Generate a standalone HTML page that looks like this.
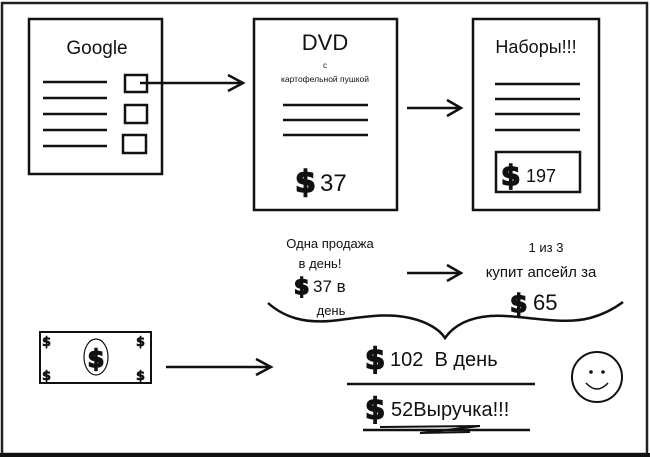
<!DOCTYPE html>
<html><head><meta charset="utf-8"><style>
html,body{margin:0;padding:0;background:#fff;}
svg{display:block;}
text{font-family:"Liberation Sans","DejaVu Sans",sans-serif;fill:#111;}
.b{font-weight:bold;font-family:"DejaVu Sans","Liberation Sans",sans-serif;stroke:#111;stroke-width:1.5;}
</style></head><body>
<svg width="650" height="459" viewBox="0 0 650 459" xmlns="http://www.w3.org/2000/svg">
<rect x="0" y="0" width="650" height="459" fill="#fff"/>
<rect x="2" y="3" width="645" height="451" fill="none" stroke="#222" stroke-width="2.5"/>
<line x1="0" y1="455" x2="650" y2="455" stroke="#111" stroke-width="4"/>
<g stroke="#111" stroke-width="2.5" fill="none">
<rect x="29" y="19" width="133" height="155"/>
<line x1="43" y1="82" x2="107" y2="82"/>
<line x1="43" y1="98" x2="107" y2="98"/>
<line x1="43" y1="114" x2="107" y2="114"/>
<line x1="43" y1="130" x2="107" y2="130"/>
<line x1="43" y1="146" x2="107" y2="146"/>
<rect x="125" y="75" width="22" height="17"/>
<rect x="125" y="105" width="22" height="18"/>
<rect x="123" y="135" width="23" height="18"/>
<line x1="140" y1="83" x2="243" y2="83"/>
<polyline points="228,75 243,83 228,91"/>
<rect x="254" y="19" width="143" height="191"/>
<line x1="283" y1="105" x2="368" y2="105"/>
<line x1="283" y1="120" x2="368" y2="120"/>
<line x1="283" y1="135" x2="368" y2="135"/>
<line x1="407" y1="108" x2="461" y2="108"/>
<polyline points="447,100 461,108 447,116"/>
<rect x="473" y="19" width="126" height="191"/>
<line x1="495" y1="84" x2="580" y2="84"/>
<line x1="495" y1="99" x2="580" y2="99"/>
<line x1="495" y1="114" x2="580" y2="114"/>
<line x1="495" y1="130" x2="580" y2="130"/>
<rect x="496" y="152" width="84" height="40"/>
<line x1="407" y1="273" x2="461" y2="273"/>
<polyline points="447,265 461,273 447,281"/>
<path d="M268,303 C285,318 305,323 330,321 C360,318 385,312 410,318 C428,322 440,330 445,338 C452,328 465,318 490,316 C520,314 560,326 590,318 C605,314 615,308 623,302"/>
<rect x="40" y="332" width="111" height="51" stroke-width="2"/>
<ellipse cx="96" cy="357" rx="12" ry="18" stroke-width="1.2"/>
<line x1="166" y1="367" x2="271" y2="367"/>
<polyline points="256,359 271,367 256,375"/>
<line x1="347" y1="384" x2="535" y2="384"/>
<line x1="363" y1="430" x2="530" y2="430"/>
<path d="M380,427 L480,426 L420,433 L470,432" stroke-width="2"/>
<circle cx="597" cy="377" r="25" stroke-width="2"/>
<path d="M586,383 Q597,395 608,383" stroke-width="1.5"/>
</g>
<circle cx="591" cy="372" r="1.8" fill="#111"/>
<circle cx="603" cy="372" r="1.8" fill="#111"/>
<text x="97" y="54" font-size="19" text-anchor="middle">Google</text>
<text x="325" y="50" font-size="22" text-anchor="middle">DVD</text>
<text x="325" y="68" font-size="8" text-anchor="middle" fill="#555">с</text>
<text x="325" y="82" font-size="8.5" text-anchor="middle" fill="#444">картофельной пушкой</text>
<text x="295" y="192" font-size="30" class="b">$</text>
<text x="320" y="191" font-size="24">37</text>
<text x="536" y="53" font-size="18" text-anchor="middle">Наборы!!!</text>
<text x="501" y="185" font-size="28" class="b">$</text>
<text x="526" y="182" font-size="18">197</text>
<text x="330" y="248" font-size="13" text-anchor="middle">Одна продажа</text>
<text x="320" y="268" font-size="13" text-anchor="middle">в день!</text>
<text x="294" y="294" font-size="22" class="b">$</text>
<text x="313" y="292" font-size="17">37 в</text>
<text x="331" y="315" font-size="13" text-anchor="middle">день</text>
<text x="546" y="252" font-size="13" text-anchor="middle">1 из 3</text>
<text x="541" y="277" font-size="15" text-anchor="middle">купит апсейл за</text>
<text x="510" y="312" font-size="25" class="b">$</text>
<text x="533" y="310" font-size="22">65</text>
<text x="365" y="369" font-size="29" class="b">$</text>
<text x="390" y="366" font-size="20">102&#160;&#160;В день</text>
<text x="365" y="419" font-size="29" class="b">$</text>
<text x="391" y="416" font-size="20">52Выручка!!!</text>
<text x="42" y="346" font-size="13" class="b" style="stroke-width:0.6">$</text>
<text x="42" y="380" font-size="13" class="b" style="stroke-width:0.6">$</text>
<text x="136" y="346" font-size="13" class="b" style="stroke-width:0.6">$</text>
<text x="136" y="380" font-size="13" class="b" style="stroke-width:0.6">$</text>
<text x="96" y="367" font-size="24" class="b" text-anchor="middle">$</text>
</svg>
</body></html>
